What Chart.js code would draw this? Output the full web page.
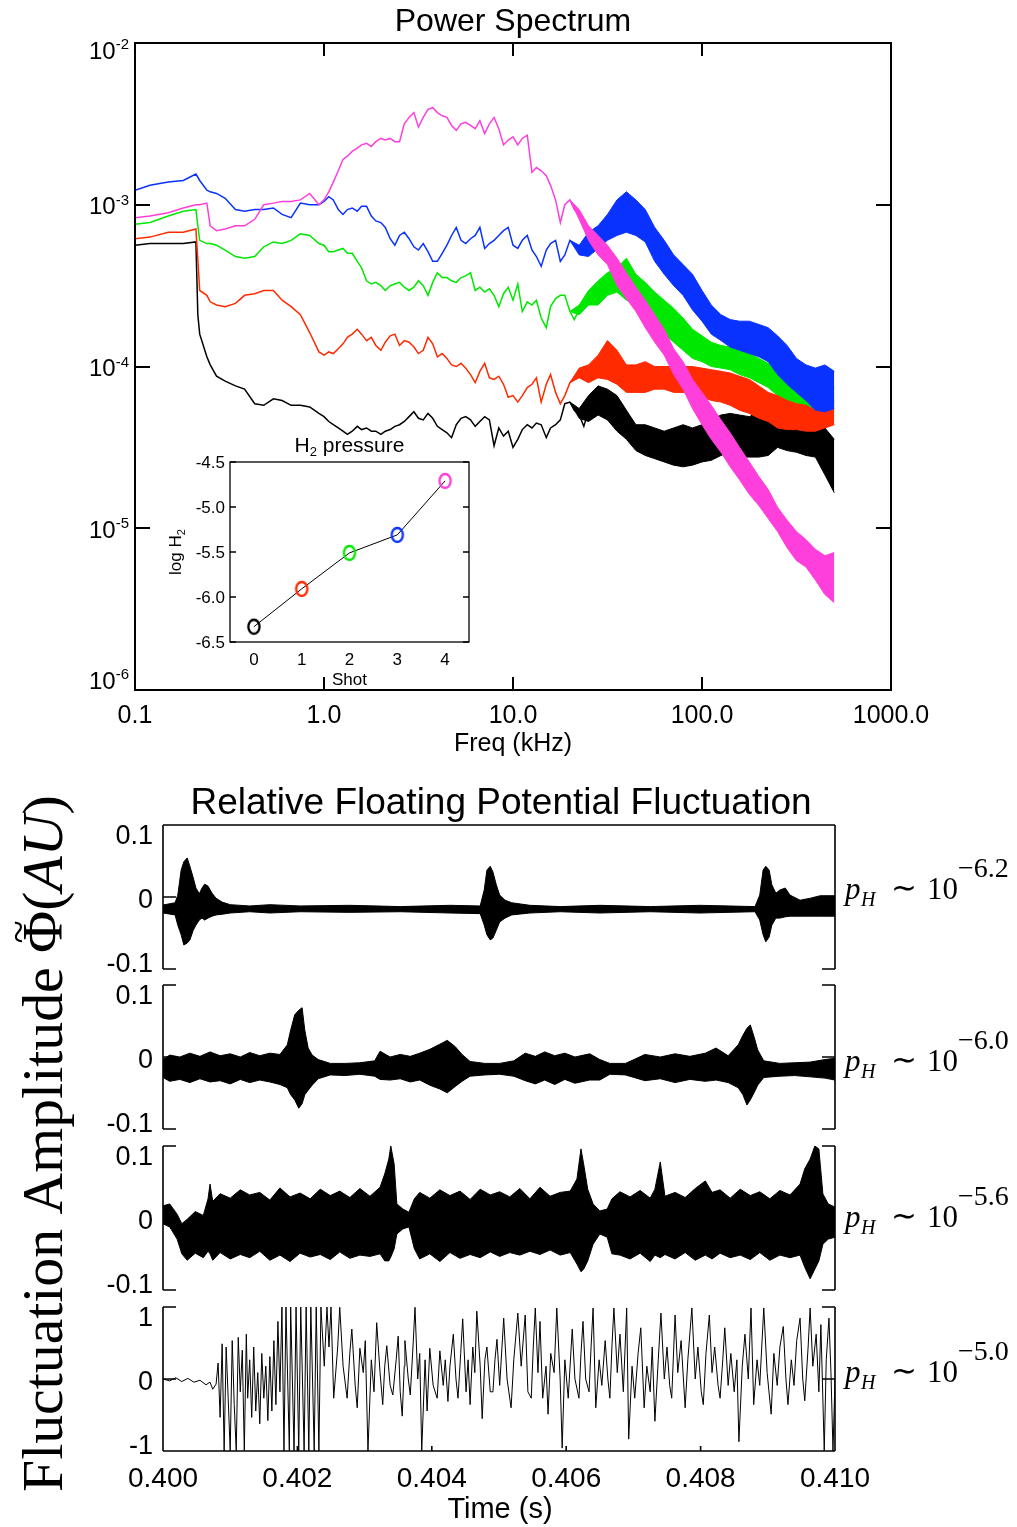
<!DOCTYPE html>
<html>
<head>
<meta charset="utf-8">
<title>Power Spectrum / Relative Floating Potential Fluctuation</title>
<script src="https://cdn.jsdelivr.net/npm/chart.js@4.4.1/dist/chart.umd.min.js"></script>
<style>
  html, body { margin: 0; padding: 0; background: #fff; }
  #page { position: relative; width: 1017px; height: 1527px; overflow: hidden; }
  #page canvas { position: absolute; left: 0; top: 0; }
</style>
</head>
<body>
<div id="page">
  <canvas id="spectrum" width="1017" height="1527"></canvas>
  <canvas id="inset" width="1017" height="1527"></canvas>
  <canvas id="panel0" width="1017" height="1527"></canvas>
  <canvas id="panel1" width="1017" height="1527"></canvas>
  <canvas id="panel2" width="1017" height="1527"></canvas>
  <canvas id="panel3" width="1017" height="1527"></canvas>
</div>
<script>
const PAGE_W = 1017, PAGE_H = 1527;
const SANS = '"Liberation Sans", Arial, Helvetica, sans-serif';
const SERIF = '"Liberation Serif", "Times New Roman", serif';

// ---------- Power spectrum: frequency in kHz, power as log10 ----------
const lineFreq = [0.10, 0.12, 0.15, 0.18, 0.21, 0.215, 0.22, 0.24, 0.25, 0.27, 0.30, 0.34, 0.38, 0.43, 0.48, 0.54, 0.60, 0.67, 0.75, 0.84, 0.94,
  1.00, 1.06, 1.12, 1.19, 1.26, 1.33, 1.41, 1.50, 1.58, 1.68, 1.78, 1.88, 2.00, 2.11, 2.24, 2.37, 2.51, 2.66, 2.82, 2.99,
  3.16, 3.35, 3.55, 3.76, 3.98, 4.22, 4.47, 4.73, 5.01, 5.31, 5.62, 5.96, 6.31, 6.68, 7.08, 7.50, 7.94, 8.41, 8.91, 9.44,
  10.0, 10.6, 11.2, 11.9, 12.6, 13.3, 14.1, 15.0, 15.8, 16.8, 17.8, 18.8, 20.0, 21.1, 22.4, 23.7, 25.1, 26.6, 28.2, 29.9, 31.6];
const bandFreq = [20.0, 22.4, 25.1, 28.2, 31.6, 35.5, 39.8, 44.7, 50.1, 56.2, 63.1, 70.8, 79.4, 89.1, 100, 112, 126, 141, 158, 178,
  200, 224, 251, 282, 316, 355, 398, 447, 501];

const blackLogP = [-3.25, -3.24, -3.24, -3.24, -3.23, -3.68, -3.80, -3.94, -3.99, -4.06, -4.09, -4.12, -4.14, -4.23, -4.24, -4.20, -4.21, -4.24, -4.24, -4.25, -4.29,
  -4.31, -4.34, -4.36, -4.38, -4.40, -4.42, -4.40, -4.37, -4.39, -4.38, -4.40, -4.40, -4.42, -4.40, -4.39, -4.37, -4.36, -4.34, -4.31, -4.28,
  -4.32, -4.33, -4.29, -4.32, -4.37, -4.39, -4.41, -4.44, -4.36, -4.32, -4.31, -4.33, -4.37, -4.34, -4.31, -4.33, -4.49, -4.38, -4.43, -4.40,
  -4.50, -4.45, -4.39, -4.36, -4.38, -4.35, -4.36, -4.44, -4.38, -4.36, -4.33, -4.23, -4.22, -4.27, -4.30, -4.37, -4.27, -4.19, -4.13, -4.26, -4.16];
const blackBandHi = [-4.22, -4.26, -4.18, -4.12, -4.14, -4.18, -4.27, -4.36, -4.36, -4.38, -4.40, -4.38, -4.36, -4.38, -4.36, -4.33, -4.30, -4.29, -4.30, -4.31,
  -4.28, -4.29, -4.29, -4.30, -4.33, -4.33, -4.35, -4.38, -4.45];
const blackBandLo = [-4.22, -4.32, -4.34, -4.30, -4.33, -4.40, -4.45, -4.52, -4.55, -4.57, -4.59, -4.61, -4.62, -4.61, -4.59, -4.58, -4.55, -4.53, -4.56, -4.56,
  -4.56, -4.55, -4.50, -4.52, -4.53, -4.55, -4.56, -4.67, -4.78];

const redLogP = [-3.21, -3.20, -3.17, -3.17, -3.15, -3.34, -3.53, -3.56, -3.60, -3.62, -3.63, -3.61, -3.56, -3.55, -3.53, -3.53, -3.59, -3.63, -3.68, -3.79, -3.91,
  -3.93, -3.91, -3.92, -3.89, -3.86, -3.82, -3.80, -3.77, -3.80, -3.84, -3.82, -3.87, -3.90, -3.85, -3.81, -3.80, -3.87, -3.84, -3.85, -3.88,
  -3.92, -3.90, -3.82, -3.86, -3.94, -3.92, -3.95, -3.99, -4.00, -3.98, -4.01, -4.05, -4.10, -4.03, -3.98, -4.07, -4.08, -4.06, -4.11, -4.19,
  -4.18, -4.22, -4.18, -4.13, -4.11, -4.07, -4.22, -4.11, -4.05, -4.16, -4.23, -4.18, -4.10, -4.07, -4.03, -4.02, -4.05, -4.01, -4.00, -3.91, -3.87];
const redBandHi = [-4.10, -4.01, -3.99, -3.93, -3.84, -3.90, -3.99, -3.99, -3.97, -4.00, -4.00, -4.00, -4.00, -4.00, -4.01, -4.02, -4.03, -4.04, -4.06, -4.08,
  -4.12, -4.16, -4.18, -4.21, -4.23, -4.24, -4.27, -4.24, -4.21];
const redBandLo = [-4.10, -4.07, -4.10, -4.07, -4.08, -4.11, -4.16, -4.16, -4.16, -4.14, -4.14, -4.16, -4.16, -4.18, -4.19, -4.21, -4.22, -4.24, -4.27, -4.29,
  -4.32, -4.34, -4.38, -4.39, -4.39, -4.40, -4.40, -4.38, -4.36];

const greenLogP = [-3.12, -3.11, -3.07, -3.04, -3.03, -3.13, -3.22, -3.24, -3.24, -3.25, -3.28, -3.32, -3.33, -3.32, -3.26, -3.23, -3.24, -3.22, -3.18, -3.19, -3.24,
  -3.25, -3.29, -3.29, -3.28, -3.27, -3.30, -3.30, -3.35, -3.39, -3.47, -3.49, -3.48, -3.50, -3.53, -3.50, -3.49, -3.48, -3.51, -3.53, -3.51,
  -3.47, -3.50, -3.56, -3.48, -3.42, -3.45, -3.45, -3.47, -3.48, -3.45, -3.44, -3.42, -3.53, -3.51, -3.54, -3.52, -3.56, -3.63, -3.55, -3.51,
  -3.59, -3.49, -3.66, -3.60, -3.62, -3.59, -3.70, -3.76, -3.63, -3.58, -3.56, -3.56, -3.66, -3.71, -3.65, -3.60, -3.56, -3.51, -3.59, -3.48, -3.45];
const greenBandHi = [-3.66, -3.62, -3.53, -3.47, -3.42, -3.39, -3.33, -3.43, -3.48, -3.54, -3.59, -3.64, -3.70, -3.77, -3.81, -3.85, -3.87, -3.88, -3.90, -3.92,
  -3.95, -3.98, -4.03, -4.08, -4.12, -4.14, -4.16, -4.16, -4.13];
const greenBandLo = [-3.66, -3.68, -3.62, -3.62, -3.56, -3.54, -3.59, -3.62, -3.68, -3.74, -3.80, -3.85, -3.90, -3.95, -3.97, -4.00, -4.01, -4.02, -4.05, -4.07,
  -4.10, -4.13, -4.18, -4.23, -4.26, -4.28, -4.29, -4.29, -4.27];

const blueLogP = [-2.91, -2.88, -2.86, -2.85, -2.81, -2.83, -2.85, -2.91, -2.92, -2.93, -2.96, -3.03, -3.04, -3.03, -3.03, -3.02, -3.06, -3.08, -2.99, -3.00, -3.00,
  -2.98, -2.95, -2.97, -3.03, -3.06, -3.03, -3.02, -3.04, -3.01, -3.01, -3.07, -3.10, -3.11, -3.14, -3.21, -3.25, -3.19, -3.17, -3.21, -3.26,
  -3.28, -3.24, -3.29, -3.35, -3.35, -3.30, -3.25, -3.19, -3.14, -3.22, -3.24, -3.21, -3.19, -3.14, -3.27, -3.24, -3.22, -3.19, -3.16, -3.14,
  -3.25, -3.27, -3.22, -3.19, -3.28, -3.32, -3.38, -3.28, -3.24, -3.22, -3.35, -3.31, -3.22, -3.25, -3.29, -3.30, -3.24, -3.17, -3.21, -3.13, -3.11];
const blueBandHi = [-3.22, -3.25, -3.17, -3.13, -3.06, -2.97, -2.92, -2.97, -3.03, -3.14, -3.22, -3.31, -3.37, -3.43, -3.53, -3.62, -3.68, -3.71, -3.72, -3.72,
  -3.74, -3.76, -3.81, -3.87, -3.95, -3.99, -4.01, -3.99, -4.03];
const blueBandLo = [-3.22, -3.31, -3.32, -3.27, -3.22, -3.19, -3.17, -3.19, -3.23, -3.35, -3.43, -3.50, -3.56, -3.65, -3.72, -3.80, -3.84, -3.88, -3.90, -3.92,
  -3.94, -3.97, -4.05, -4.11, -4.16, -4.21, -4.27, -4.28, -4.26];

const magentaLogP = [-3.08, -3.07, -3.05, -3.02, -3.00, -3.00, -3.00, -2.99, -3.13, -3.16, -3.15, -3.13, -3.13, -3.09, -3.00, -2.99, -2.98, -2.98, -2.97, -2.93, -3.00,
  -2.97, -2.92, -2.86, -2.79, -2.72, -2.70, -2.67, -2.65, -2.63, -2.62, -2.64, -2.61, -2.59, -2.60, -2.59, -2.61, -2.61, -2.50, -2.46, -2.43,
  -2.52, -2.46, -2.41, -2.40, -2.43, -2.45, -2.46, -2.51, -2.54, -2.50, -2.49, -2.51, -2.53, -2.48, -2.56, -2.50, -2.46, -2.53, -2.63, -2.60,
  -2.58, -2.63, -2.59, -2.57, -2.80, -2.77, -2.79, -2.82, -2.88, -2.97, -3.11, -3.00, -2.97, -3.03, -3.06, -3.14, -3.17, -3.21, -3.25, -3.27, -3.31];
const magentaBandHi = [-2.97, -3.03, -3.13, -3.19, -3.25, -3.33, -3.42, -3.51, -3.59, -3.68, -3.77, -3.89, -3.97, -4.08, -4.16, -4.24, -4.33, -4.41, -4.50, -4.59,
  -4.68, -4.76, -4.87, -4.95, -5.02, -5.07, -5.13, -5.17, -5.15];
const magentaBandLo = [-2.97, -3.09, -3.22, -3.31, -3.37, -3.50, -3.58, -3.66, -3.76, -3.85, -3.93, -4.05, -4.14, -4.26, -4.36, -4.45, -4.53, -4.62, -4.70, -4.79,
  -4.86, -4.94, -5.02, -5.12, -5.20, -5.24, -5.32, -5.41, -5.46];

const freqTicks = [0.1, 1, 10, 100, 1000];
const freqTickLabels = ['0.1', '1.0', '10.0', '100.0', '1000.0'];
const powerExponents = [-2, -3, -4, -5, -6];

// ---------- Inset: H2 pressure per shot ----------
const shots = [0, 1, 2, 3, 4];
const logH2 = [-6.33, -5.91, -5.51, -5.31, -4.71];
const shotColors = ['#000000', '#ff2a00', '#00e800', '#0a32ff', '#ff3fdc'];
const insetYTicks = [-4.5, -5.0, -5.5, -6.0, -6.5];
const insetYLabels = ['-4.5', '-5.0', '-5.5', '-6.0', '-6.5'];

// ---------- Fluctuation traces: time in ms after 0.400 s ----------
const p1Time = [0, 0.18, 0.22, 0.27, 0.31, 0.36, 0.40, 0.45, 0.49, 0.54, 0.58, 0.62, 0.67, 0.73, 0.79, 0.88, 1.00, 1.29, 1.59, 2.04,
  2.78, 3.53, 4.27, 4.72, 4.78, 4.82, 4.87, 4.91, 4.96, 5.01, 5.09, 5.19, 5.46, 5.91, 6.50, 7.25, 7.99, 8.81, 8.88, 8.93,
  8.97, 9.02, 9.06, 9.12, 9.18, 9.26, 9.33, 9.48, 9.63, 9.78, 10.0];
const p1Hi = [-0.0125, -0.009, 0.003, 0.042, 0.055, 0.061, 0.048, 0.030, 0.014, 0.005, 0.014, 0.020, 0.017, 0.006, -0.002, -0.008, -0.012, -0.014, -0.012, -0.014,
  -0.013, -0.015, -0.013, -0.014, 0.011, 0.042, 0.048, 0.039, 0.019, 0.003, -0.005, -0.009, -0.013, -0.015, -0.013, -0.015, -0.013, -0.015, 0.003, 0.042,
  0.048, 0.042, 0.019, 0.006, 0.011, 0.014, 0.003, -0.005, -0.002, 0.002, 0.002];
const p1Lo = [-0.025, -0.028, -0.044, -0.059, -0.075, -0.072, -0.067, -0.052, -0.044, -0.036, -0.033, -0.036, -0.033, -0.030, -0.028, -0.027, -0.025, -0.023, -0.025, -0.023,
  -0.024, -0.023, -0.025, -0.026, -0.044, -0.059, -0.067, -0.064, -0.052, -0.039, -0.033, -0.028, -0.025, -0.023, -0.025, -0.023, -0.025, -0.023, -0.036, -0.059,
  -0.070, -0.0625, -0.044, -0.033, -0.033, -0.031, -0.030, -0.030, -0.030, -0.030, -0.030];

const p2Time = [0, 0.10, 0.25, 0.40, 0.55, 0.70, 0.85, 1.00, 1.15, 1.29, 1.44, 1.59, 1.74, 1.85, 1.90, 1.96, 2.02, 2.07, 2.11, 2.16,
  2.22, 2.31, 2.49, 2.71, 2.93, 3.15, 3.23, 3.38, 3.53, 3.68, 3.82, 3.97, 4.12, 4.23, 4.35, 4.45, 4.57, 4.79, 5.01, 5.22,
  5.39, 5.54, 5.68, 5.83, 5.98, 6.13, 6.35, 6.50, 6.65, 6.88, 7.01, 7.17, 7.40, 7.62, 7.84, 8.07, 8.23, 8.41, 8.56, 8.63,
  8.69, 8.74, 8.80, 8.85, 8.94, 9.18, 9.40, 9.63, 9.85, 10.0];
const p2Hi = [-0.004, 0.003, 0.000, 0.006, 0.001, 0.008, 0.002, 0.005, 0.000, 0.007, 0.002, 0.006, 0.004, 0.019, 0.042, 0.066, 0.073, 0.077, 0.042, 0.014,
  0.003, -0.004, -0.010, -0.010, -0.009, -0.006, 0.009, 0.000, 0.004, 0.001, 0.006, 0.012, 0.020, 0.026, 0.016, 0.004, -0.007, -0.010, -0.010, -0.006,
  0.006, 0.001, 0.008, 0.002, 0.006, 0.000, 0.005, -0.004, -0.010, -0.010, -0.004, 0.004, 0.000, 0.005, 0.001, 0.006, 0.014, 0.002, 0.019, 0.034,
  0.045, 0.050, 0.030, 0.011, -0.006, -0.010, -0.009, -0.008, -0.004, -0.002];
const p2Lo = [-0.032, -0.038, -0.035, -0.040, -0.034, -0.039, -0.037, -0.042, -0.035, -0.040, -0.036, -0.039, -0.043, -0.048, -0.059, -0.067, -0.080, -0.073, -0.059, -0.052,
  -0.044, -0.034, -0.028, -0.029, -0.027, -0.030, -0.035, -0.036, -0.034, -0.039, -0.036, -0.044, -0.050, -0.056, -0.046, -0.038, -0.030, -0.028, -0.027, -0.030,
  -0.037, -0.042, -0.036, -0.043, -0.035, -0.041, -0.036, -0.036, -0.027, -0.028, -0.032, -0.037, -0.034, -0.040, -0.035, -0.038, -0.036, -0.040, -0.048, -0.059,
  -0.075, -0.067, -0.055, -0.044, -0.032, -0.030, -0.029, -0.031, -0.033, -0.036];

const p3Time = [0, 0.10, 0.21, 0.28, 0.36, 0.48, 0.60, 0.67, 0.70, 0.74, 0.85, 1.00, 1.15, 1.29, 1.44, 1.59, 1.74, 1.89, 2.04, 2.19,
  2.34, 2.49, 2.63, 2.78, 2.93, 3.08, 3.23, 3.30, 3.36, 3.39, 3.44, 3.48, 3.57, 3.66, 3.74, 3.82, 3.97, 4.12, 4.27, 4.42,
  4.57, 4.72, 4.87, 5.01, 5.16, 5.31, 5.46, 5.61, 5.76, 5.91, 6.06, 6.16, 6.22, 6.26, 6.32, 6.40, 6.50, 6.61, 6.68, 6.80,
  6.95, 7.10, 7.25, 7.32, 7.40, 7.47, 7.62, 7.77, 7.92, 8.07, 8.17, 8.29, 8.44, 8.59, 8.74, 8.88, 9.03, 9.18, 9.33, 9.48,
  9.55, 9.63, 9.70, 9.76, 9.82, 9.90, 10.0];
const p3Hi = [0.019, 0.022, 0.006, -0.009, -0.002, 0.010, 0.004, 0.030, 0.053, 0.026, 0.038, 0.031, 0.044, 0.036, 0.040, 0.028, 0.047, 0.033, 0.039, 0.030,
  0.045, 0.035, 0.042, 0.032, 0.046, 0.034, 0.048, 0.069, 0.092, 0.1125, 0.084, 0.022, 0.014, 0.009, 0.030, 0.040, 0.031, 0.044, 0.035, 0.042,
  0.029, 0.045, 0.036, 0.041, 0.033, 0.046, 0.030, 0.048, 0.034, 0.040, 0.042, 0.061, 0.108, 0.084, 0.045, 0.022, 0.011, 0.014, 0.030, 0.041,
  0.033, 0.043, 0.031, 0.045, 0.0875, 0.034, 0.040, 0.032, 0.046, 0.058, 0.040, 0.044, 0.031, 0.045, 0.035, 0.041, 0.030, 0.043, 0.036, 0.053,
  0.077, 0.092, 0.1125, 0.108, 0.0375, 0.022, 0.017];
const p3Lo = [-0.009, -0.014, -0.033, -0.056, -0.066, -0.055, -0.062, -0.052, -0.056, -0.066, -0.054, -0.064, -0.057, -0.062, -0.052, -0.066, -0.058, -0.068, -0.055, -0.061,
  -0.057, -0.065, -0.053, -0.063, -0.058, -0.060, -0.056, -0.067, -0.067, -0.061, -0.048, -0.025, -0.017, -0.014, -0.048, -0.064, -0.056, -0.068, -0.054, -0.063,
  -0.057, -0.062, -0.053, -0.060, -0.054, -0.058, -0.052, -0.057, -0.050, -0.058, -0.054, -0.072, -0.084, -0.080, -0.067, -0.041, -0.025, -0.030, -0.056, -0.058,
  -0.064, -0.055, -0.068, -0.058, -0.062, -0.057, -0.064, -0.054, -0.066, -0.058, -0.064, -0.055, -0.062, -0.058, -0.065, -0.054, -0.066, -0.058, -0.062, -0.058,
  -0.077, -0.095, -0.080, -0.067, -0.041, -0.033, -0.030];

const p4Time = [0, 0.10, 0.19, 0.28, 0.37, 0.46, 0.55, 0.64, 0.70, 0.74, 0.79, 0.82, 0.85, 0.88, 0.91, 0.94, 0.97, 1.00, 1.03, 1.06,
  1.09, 1.12, 1.15, 1.18, 1.21, 1.24, 1.26, 1.29, 1.32, 1.35, 1.38, 1.41, 1.44, 1.47, 1.50, 1.53, 1.56, 1.59, 1.62, 1.65,
  1.68, 1.71, 1.74, 1.77, 1.80, 1.83, 1.88, 1.90, 1.95, 1.98, 2.02, 2.05, 2.10, 2.13, 2.17, 2.20, 2.25, 2.28, 2.32, 2.35,
  2.40, 2.44, 2.47, 2.50, 2.54, 2.60, 2.63, 2.68, 2.74, 2.78, 2.81, 2.86, 2.89, 2.93, 2.98, 3.01, 3.05, 3.10, 3.14, 3.18,
  3.23, 3.27, 3.30, 3.33, 3.38, 3.42, 3.47, 3.50, 3.53, 3.56, 3.59, 3.60, 3.65, 3.68, 3.72, 3.75, 3.79, 3.82, 3.85, 3.90,
  3.93, 3.97, 4.02, 4.08, 4.12, 4.17, 4.20, 4.24, 4.27, 4.32, 4.36, 4.39, 4.43, 4.46, 4.51, 4.54, 4.57, 4.61, 4.64, 4.67,
  4.72, 4.75, 4.79, 4.82, 4.87, 4.91, 4.94, 4.97, 5.01, 5.07, 5.12, 5.18, 5.22, 5.28, 5.33, 5.39, 5.43, 5.48, 5.51, 5.54,
  5.58, 5.61, 5.65, 5.70, 5.73, 5.77, 5.82, 5.86, 5.91, 5.94, 5.98, 6.03, 6.09, 6.13, 6.19, 6.22, 6.25, 6.29, 6.34, 6.37,
  6.40, 6.44, 6.49, 6.53, 6.58, 6.62, 6.65, 6.68, 6.71, 6.76, 6.80, 6.85, 6.90, 6.93, 6.98, 7.02, 7.07, 7.11, 7.16, 7.20,
  7.25, 7.28, 7.32, 7.37, 7.41, 7.46, 7.50, 7.54, 7.57, 7.62, 7.66, 7.71, 7.77, 7.81, 7.87, 7.92, 7.96, 8.01, 8.04, 8.08,
  8.13, 8.17, 8.21, 8.26, 8.29, 8.33, 8.36, 8.41, 8.45, 8.50, 8.54, 8.57, 8.62, 8.66, 8.71, 8.75, 8.79, 8.84, 8.88, 8.94,
  8.99, 9.05, 9.09, 9.14, 9.18, 9.23, 9.27, 9.30, 9.35, 9.39, 9.43, 9.48, 9.52, 9.55, 9.60, 9.63, 9.67, 9.72, 9.76, 9.79,
  9.84, 9.87, 9.91, 9.94, 9.97, 10.0];
const p4Val = [0.0, -0.03, 0.02, -0.04, 0.01, -0.05, -0.02, -0.09, -0.05, -0.16, -0.08, 0.25, -0.6, 0.55, -1.125, 0.5, -0.3, -1.125, 0.6, -0.4,
  -1.125, 0.65, -0.2, 0.45, -1.125, 0.7, -0.3, 0.3, -0.6, 0.5, -0.5, 0.1, -0.7, 0.4, -0.3, 0.2, -0.65, 0.35, -0.5, 0.6,
  -0.4, 0.9, -0.2, 1.125, -1.125, 1.125, -1.125, 1.125, -1.125, 1.125, -1.125, 1.125, -1.125, 1.125, -1.125, 1.125, -1.125, 1.125, -1.125, 1.125,
  0.2, 1.125, 0.5, 1.125, -0.3, 0.5, 1.12, 0.2, -0.3, 0.4, 0.78, -0.1, -0.45, 0.48, 0.1, 0.6, -1.125, 0.3, -0.2, 0.88,
  0.1, -0.4, 0.2, 0.52, -0.1, -0.25, 0.3, 0.67, -0.2, -0.58, 0.2, 0.6, 0.0, -0.25, 0.5, 1.12, 0.0, 0.4, -1.125, 0.3,
  -0.5, 0.48, -0.1, -0.3, 0.44, -0.1, 0.3, -0.35, 0.2, 0.7, 0.0, -0.3, 0.4, 0.94, -0.2, 0.3, -0.4, 0.5, 0.1, 1.06,
  0.2, -0.62, 0.3, 0.5, -0.2, -0.2, 0.3, 0.62, -0.1, 0.95, 0.0, -0.45, 0.3, 1.03, 0.2, 1.0, -0.2, -0.3, 0.5, 1.11,
  0.1, 0.9, -0.3, 0.2, -0.55, 0.4, 0.1, 1.11, 0.0, -1.08, 0.3, -0.3, 0.78, 0.0, -0.3, 0.4, 0.9, 0.0, -0.2, 0.5,
  1.11, -0.45, 0.3, -0.1, 0.6, 0.0, -0.3, 0.5, 1.11, 0.1, 0.7, -0.2, 1.11, -0.94, 0.2, -0.3, 0.4, 0.8, -0.45, 0.2,
  -0.2, 0.5, -0.66, 0.3, 1.03, 0.0, 0.5, -0.1, -0.3, 1.0, 0.1, 0.6, -0.45, 0.3, 1.11, 0.0, 0.5, -0.2, -0.4, 0.4,
  1.0, 0.1, 0.5, -0.1, -0.3, 0.3, 0.8, -0.1, 0.4, -0.2, 0.3, -0.98, 0.2, 0.7, 0.0, 1.11, -0.4, 0.3, -0.1, 1.11,
  0.1, -0.55, 0.4, -0.1, 0.5, 0.82, 0.0, -0.4, 0.3, -0.1, 0.6, 0.95, 0.0, -0.34, 0.5, 1.11, 0.2, 0.7, -0.2, 0.85,
  -1.125, 0.3, 0.95, 0.1, -1.125, 0.0];

const timeTicksMs = [0, 2, 4, 6, 8, 10];
const timeTickLabels = ['0.400', '0.402', '0.404', '0.406', '0.408', '0.410'];
const pressureExponents = ['\u22126.2', '\u22126.0', '\u22125.6', '\u22125.0'];

// ---------- helpers ----------
function logPoints(xs, logs) {
  return xs.map((x, i) => ({ x: x, y: Math.pow(10, logs[i]) }));
}
function linPoints(xs, ys) {
  return xs.map((x, i) => ({ x: x, y: ys[i] }));
}
function baseOptions(area, xScale, yScale) {
  return {
    responsive: false,
    animation: false,
    devicePixelRatio: 1,
    events: [],
    layout: { padding: { left: area.left, top: area.top, right: PAGE_W - area.right, bottom: PAGE_H - area.bottom } },
    plugins: { legend: { display: false }, tooltip: { enabled: false } },
    elements: { point: { radius: 0 }, line: { tension: 0 } },
    scales: {
      x: Object.assign({ display: false }, xScale),
      y: Object.assign({ display: false }, yScale)
    }
  };
}
function strokeLines(ctx, segs) {
  ctx.beginPath();
  segs.forEach(s => { ctx.moveTo(s[0], s[1]); ctx.lineTo(s[2], s[3]); });
  ctx.stroke();
}

// ---------- Power spectrum ----------
const specArea = { left: 135, top: 43, right: 891, bottom: 690 };
const spectrumSeries = [
  { color: '#000000', line: blackLogP, hi: blackBandHi, lo: blackBandLo, order: 5 },
  { color: '#00e800', line: greenLogP, hi: greenBandHi, lo: greenBandLo, order: 4 },
  { color: '#ff2a00', line: redLogP, hi: redBandHi, lo: redBandLo, order: 3 },
  { color: '#0a32ff', line: blueLogP, hi: blueBandHi, lo: blueBandLo, order: 2 },
  { color: '#ff3fdc', line: magentaLogP, hi: magentaBandHi, lo: magentaBandLo, order: 1 }
];
const specDatasets = [];
spectrumSeries.forEach(s => {
  specDatasets.push({ data: logPoints(lineFreq, s.line), borderColor: s.color, borderWidth: 1.5, order: s.order, fill: false });
  specDatasets.push({ data: logPoints(bandFreq, s.hi), borderColor: s.color, borderWidth: 1, order: s.order, fill: false });
  specDatasets.push({ data: logPoints(bandFreq, s.lo), borderColor: s.color, borderWidth: 1, order: s.order, fill: '-1', backgroundColor: s.color });
});

const spectrumDecor = {
  id: 'spectrumDecor',
  afterDraw(chart) {
    const { ctx, chartArea: a } = chart;
    const xs = chart.scales.x, ys = chart.scales.y;
    ctx.save();
    ctx.strokeStyle = '#000';
    ctx.fillStyle = '#000';
    ctx.lineWidth = 2;
    ctx.strokeRect(a.left, a.top, a.right - a.left, a.bottom - a.top);
    const segs = [];
    freqTicks.forEach(v => {
      const px = Math.round(xs.getPixelForValue(v));
      segs.push([px, a.bottom, px, a.bottom - 13], [px, a.top, px, a.top + 13]);
    });
    powerExponents.forEach(e => {
      const py = Math.round(ys.getPixelForValue(Math.pow(10, e)));
      segs.push([a.left, py, a.left + 15, py], [a.right, py, a.right - 15, py]);
    });
    strokeLines(ctx, segs);

    ctx.textBaseline = 'alphabetic';
    ctx.font = '25px ' + SANS;
    ctx.textAlign = 'center';
    freqTicks.forEach((v, i) => ctx.fillText(freqTickLabels[i], xs.getPixelForValue(v), a.bottom + 33));

    powerExponents.forEach(e => {
      const py = ys.getPixelForValue(Math.pow(10, e));
      const c = Math.min(Math.max(py + 1, a.top + 7), a.bottom - 10);
      const sup = String(e);
      ctx.font = '15px ' + SANS;
      const sw = ctx.measureText(sup).width;
      ctx.textAlign = 'left';
      ctx.fillText(sup, a.left - 6 - sw, c - 1);
      ctx.font = '24px ' + SANS;
      ctx.textAlign = 'right';
      ctx.fillText('10', a.left - 6 - sw, c + 8.5);
    });

    ctx.textAlign = 'center';
    ctx.font = '32px ' + SANS;
    ctx.fillText('Power Spectrum', (a.left + a.right) / 2, 31);
    ctx.font = '25px ' + SANS;
    ctx.fillText('Freq (kHz)', (a.left + a.right) / 2, 751);
    ctx.restore();
  }
};

new Chart(document.getElementById('spectrum'), {
  type: 'line',
  data: { datasets: specDatasets },
  options: baseOptions(specArea,
    { type: 'logarithmic', min: 0.1, max: 1000 },
    { type: 'logarithmic', min: 1e-6, max: 1e-2 }),
  plugins: [spectrumDecor]
});

// ---------- Inset ----------
const insetArea = { left: 230, top: 462, right: 469, bottom: 642 };
function ringMarker(color) {
  const c = document.createElement('canvas');
  c.width = 18; c.height = 20;
  const g = c.getContext('2d');
  g.strokeStyle = color;
  g.lineWidth = 2.3;
  g.beginPath();
  g.ellipse(9, 10, 5.6, 7, 0, 0, Math.PI * 2);
  g.stroke();
  return c;
}
const insetDecor = {
  id: 'insetDecor',
  afterDraw(chart) {
    const { ctx, chartArea: a } = chart;
    const xs = chart.scales.x, ys = chart.scales.y;
    ctx.save();
    ctx.strokeStyle = '#000';
    ctx.fillStyle = '#000';
    ctx.lineWidth = 1.3;
    ctx.strokeRect(a.left, a.top, a.right - a.left, a.bottom - a.top);
    const segs = [];
    insetYTicks.forEach(v => {
      const py = Math.round(ys.getPixelForValue(v));
      segs.push([a.left, py, a.left + 6, py], [a.right, py, a.right - 6, py]);
    });
    strokeLines(ctx, segs);

    ctx.font = '17px ' + SANS;
    ctx.textAlign = 'right';
    insetYTicks.forEach((v, i) => {
      const py = ys.getPixelForValue(v);
      ctx.fillText(insetYLabels[i], a.left - 5, py + 6);
    });
    ctx.textAlign = 'center';
    shots.forEach(s => ctx.fillText(String(s), xs.getPixelForValue(s), a.bottom + 23));
    ctx.fillText('Shot', (a.left + a.right) / 2, a.bottom + 43);

    // title with subscript
    ctx.textAlign = 'left';
    ctx.font = '21px ' + SANS;
    const wH = ctx.measureText('H').width;
    const wRest = ctx.measureText(' pressure').width;
    ctx.font = '13px ' + SANS;
    const w2 = ctx.measureText('2').width;
    const tx = (a.left + a.right) / 2 - (wH + w2 + wRest) / 2;
    const tb = a.top - 10;
    ctx.font = '21px ' + SANS;
    ctx.fillText('H', tx, tb);
    ctx.font = '13px ' + SANS;
    ctx.fillText('2', tx + wH, tb + 4);
    ctx.font = '21px ' + SANS;
    ctx.fillText(' pressure', tx + wH + w2, tb);

    // rotated y label
    ctx.translate(181, (a.top + a.bottom) / 2);
    ctx.rotate(-Math.PI / 2);
    ctx.font = '17px ' + SANS;
    const wl = ctx.measureText('log H').width;
    ctx.font = '11px ' + SANS;
    const ws = ctx.measureText('2').width;
    const lx = -(wl + ws) / 2;
    ctx.font = '17px ' + SANS;
    ctx.fillText('log H', lx, 0);
    ctx.font = '11px ' + SANS;
    ctx.fillText('2', lx + wl, 4);
    ctx.restore();
  }
};
new Chart(document.getElementById('inset'), {
  type: 'line',
  data: {
    datasets: [{
      data: linPoints(shots, logH2),
      borderColor: '#000',
      borderWidth: 1,
      pointRadius: 6,
      pointStyle: shotColors.map(ringMarker),
      fill: false
    }]
  },
  options: baseOptions(insetArea,
    { type: 'linear', min: -0.5, max: 4.5 },
    { type: 'linear', min: -6.5, max: -4.5 }),
  plugins: [insetDecor]
});

// ---------- Fluctuation panels ----------
const panels = [
  { top: 825, bottom: 969, range: 0.1125, time: p1Time, hi: p1Hi, lo: p1Lo, ticks: [0.1, 0, -0.1], labels: ['0.1', '0', '-0.1'], labelDrop: 2 },
  { top: 985, bottom: 1129, range: 0.1125, time: p2Time, hi: p2Hi, lo: p2Lo, ticks: [0.1, 0, -0.1], labels: ['0.1', '0', '-0.1'], labelDrop: 14 },
  { top: 1146, bottom: 1290, range: 0.1125, time: p3Time, hi: p3Hi, lo: p3Lo, ticks: [0.1, 0, -0.1], labels: ['0.1', '0', '-0.1'], labelDrop: 9 },
  { top: 1307, bottom: 1451, range: 1.125, time: p4Time, values: p4Val, ticks: [1, 0, -1], labels: ['1', '0', '-1'], labelDrop: 3 }
];
const PANEL_LEFT = 163, PANEL_RIGHT = 835;

function drawAxisTitle(ctx) {
  // rotated serif label, fitted to its span
  const parts = [
    { t: 'Fluctuation Amplitude ', it: false },
    { t: '\u03A6', it: false, tilde: true },
    { t: '(', it: false },
    { t: 'AU', it: true },
    { t: ')', it: false }
  ];
  const measure = s => {
    let w = 0;
    parts.forEach(p => { ctx.font = (p.it ? 'italic ' : '') + s + 'px ' + SERIF; w += ctx.measureText(p.t).width; });
    return w;
  };
  const size = 57 * 697 / measure(57);
  ctx.save();
  ctx.translate(62, 1492);
  ctx.rotate(-Math.PI / 2);
  ctx.textAlign = 'left';
  ctx.textBaseline = 'alphabetic';
  let x = 0;
  parts.forEach(p => {
    ctx.font = (p.it ? 'italic ' : '') + size + 'px ' + SERIF;
    const w = ctx.measureText(p.t).width;
    ctx.fillText(p.t, x, 0);
    if (p.tilde) {
      ctx.font = Math.round(size * 0.75) + 'px ' + SERIF;
      ctx.textAlign = 'center';
      ctx.fillText('~', x + w / 2, -size * 0.52);
      ctx.textAlign = 'left';
    }
    x += w;
  });
  ctx.restore();
}

function panelDecor(p, idx) {
  return {
    id: 'panelDecor' + idx,
    afterDraw(chart) {
      const { ctx, chartArea: a } = chart;
      const xs = chart.scales.x, ys = chart.scales.y;
      const zero = ys.getPixelForValue(0);
      const stub = 13;
      ctx.save();
      ctx.strokeStyle = '#000';
      ctx.fillStyle = '#000';
      ctx.lineWidth = 1.6;
      const segs = [
        [a.left, a.top, a.left, a.bottom],
        [a.right, a.top, a.right, a.bottom],
        [a.left, zero, a.left + stub, zero],
        [a.right, zero, a.right - stub, zero]
      ];
      if (idx === 0) segs.push([a.left, a.top, a.right, a.top]);
      else segs.push([a.left, a.top, a.left + stub, a.top], [a.right, a.top, a.right - stub, a.top]);
      if (idx === panels.length - 1) {
        segs.push([a.left, a.bottom, a.right, a.bottom]);
        timeTicksMs.forEach(t => {
          const px = xs.getPixelForValue(t);
          segs.push([px, a.bottom, px, a.bottom - 5]);
        });
      } else {
        segs.push([a.left, a.bottom, a.left + stub, a.bottom], [a.right, a.bottom, a.right - stub, a.bottom]);
      }
      strokeLines(ctx, segs);

      ctx.textBaseline = 'alphabetic';
      ctx.font = '27px ' + SANS;
      ctx.textAlign = 'right';
      p.ticks.forEach((v, i) => ctx.fillText(p.labels[i], a.left - 10, ys.getPixelForValue(v) + 11));

      // pressure label on the right
      const base = zero + p.labelDrop;
      ctx.textAlign = 'left';
      ctx.font = 'italic 31px ' + SERIF;
      ctx.fillText('p', 845, base);
      ctx.font = 'italic 20px ' + SERIF;
      ctx.fillText('H', 861, base + 7);
      ctx.font = '31px ' + SERIF;
      ctx.fillText('\u223C', 891, base - 1);
      ctx.fillText('10', 927, base);
      ctx.font = '28px ' + SERIF;
      ctx.fillText(pressureExponents[idx], 958, base - 22);

      if (idx === 0) {
        ctx.font = '37px ' + SANS;
        ctx.textAlign = 'center';
        ctx.fillText('Relative Floating Potential Fluctuation', 501, 814);
        drawAxisTitle(ctx);
      }
      if (idx === panels.length - 1) {
        ctx.font = '28px ' + SANS;
        ctx.textAlign = 'center';
        timeTicksMs.forEach((t, i) => ctx.fillText(timeTickLabels[i], xs.getPixelForValue(t), 1487));
        ctx.font = '29px ' + SANS;
        ctx.fillText('Time (s)', 500, 1518);
      }
      ctx.restore();
    }
  };
}

panels.forEach((p, idx) => {
  let datasets;
  if (p.values) {
    datasets = [{ data: linPoints(p.time, p.values), borderColor: '#000', borderWidth: 1, fill: false }];
  } else {
    datasets = [
      { data: linPoints(p.time, p.hi), borderColor: '#000', borderWidth: 1, fill: false },
      { data: linPoints(p.time, p.lo), borderColor: '#000', borderWidth: 1, fill: '-1', backgroundColor: '#000' }
    ];
  }
  new Chart(document.getElementById('panel' + idx), {
    type: 'line',
    data: { datasets: datasets },
    options: baseOptions({ left: PANEL_LEFT, top: p.top, right: PANEL_RIGHT, bottom: p.bottom },
      { type: 'linear', min: 0, max: 10 },
      { type: 'linear', min: -p.range, max: p.range }),
    plugins: [panelDecor(p, idx)]
  });
});
</script>
</body>
</html>
